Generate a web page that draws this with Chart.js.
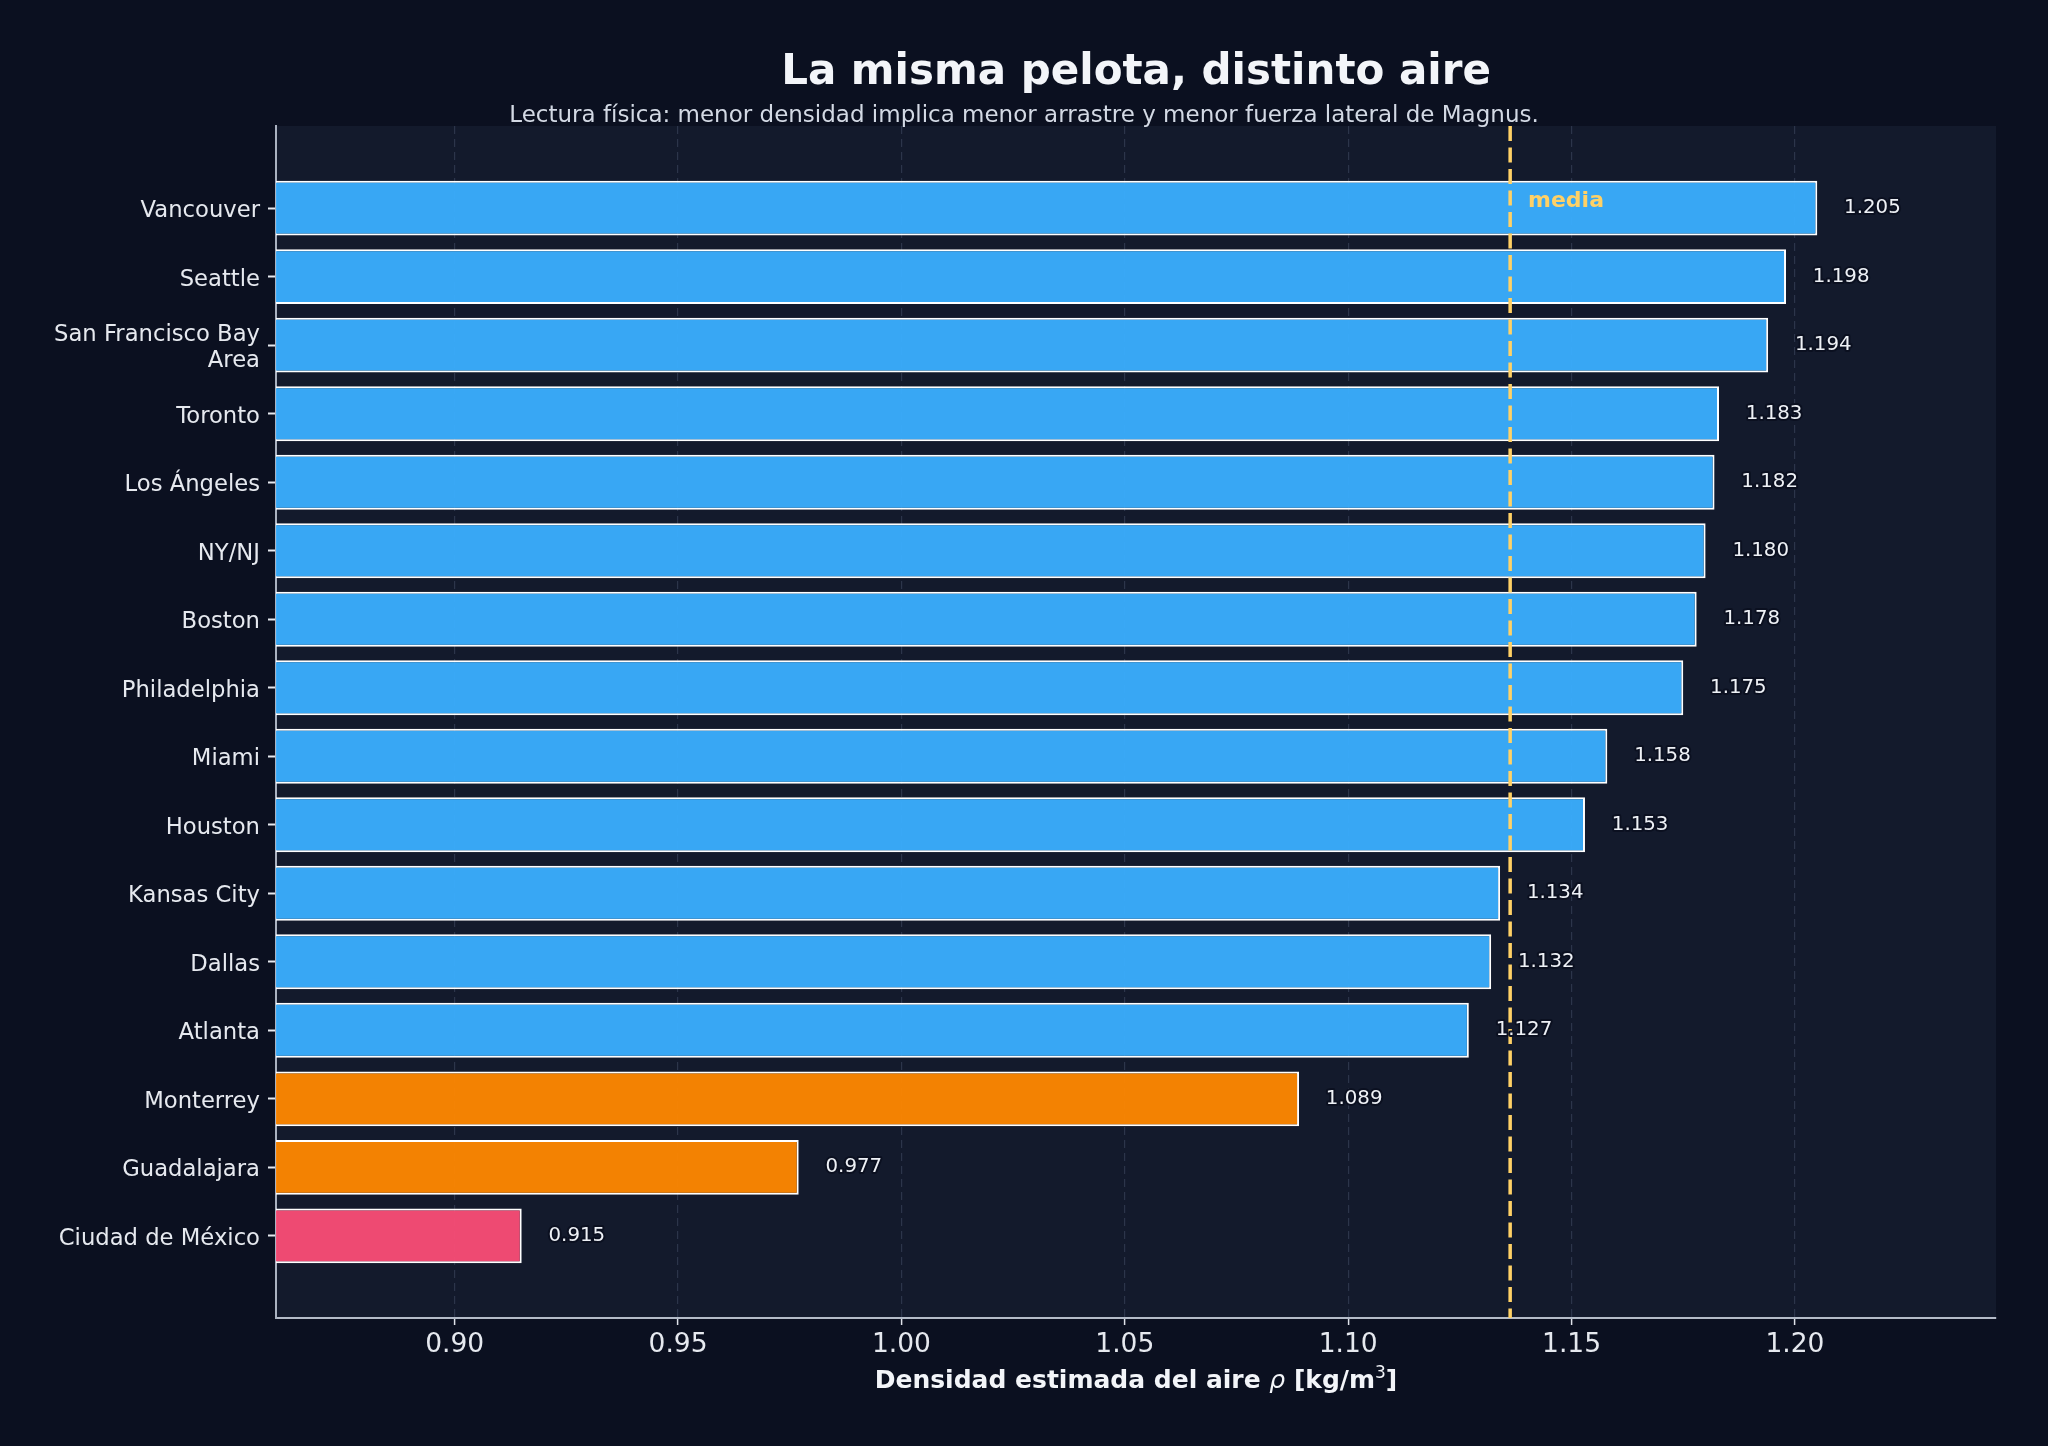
<!DOCTYPE html>
<html>
<head>
<meta charset="utf-8">
<script src="https://cdn.jsdelivr.net/npm/chart.js@4.4.1/dist/chart.umd.min.js"></script>
<style>
  html, body { margin: 0; padding: 0; background: #0b1020; }
  #wrap { width: 2048px; height: 1446px; }
</style>
</head>
<body>
<div id="wrap"><canvas id="chart" width="2048" height="1446"></canvas></div>
<script>
// Estimated air density per host city, sorted top to bottom
const cities = [
    'Vancouver', 'Seattle', ['San Francisco Bay', 'Area'], 'Toronto', 'Los Ángeles',
    'NY/NJ', 'Boston', 'Philadelphia', 'Miami', 'Houston', 'Kansas City',
    'Dallas', 'Atlanta', 'Monterrey', 'Guadalajara', 'Ciudad de México'
];
const densities = [
    1.205, 1.198, 1.194, 1.183, 1.182, 1.180, 1.178, 1.175,
    1.158, 1.153, 1.134, 1.132, 1.127, 1.089, 0.977, 0.915
];
const tiers = [
    'low', 'low', 'low', 'low', 'low', 'low', 'low', 'low',
    'low', 'low', 'low', 'low', 'low', 'mid', 'mid', 'high'
];
const xTicks = [0.90, 0.95, 1.00, 1.05, 1.10, 1.15, 1.20];

const titleText = 'La misma pelota, distinto aire';
const subtitleText = 'Lectura física: menor densidad implica menor arrastre y menor fuerza lateral de Magnus.';

const tierColors = {
    low: 'rgba(58, 175, 255, 0.95)',
    mid: 'rgba(255, 136, 0, 0.95)',
    high: 'rgba(250, 77, 118, 0.95)'
};

const meanDensity = densities.reduce((a, b) => a + b, 0) / densities.length;
const FONT = "'DejaVu Sans', 'Noto Sans', sans-serif";

const decorations = {
    id: 'decorations',
    beforeDraw(chart) {
        const { ctx, chartArea: a } = chart;
        ctx.save();
        ctx.fillStyle = '#0b1020';
        ctx.fillRect(0, 0, chart.width, chart.height);
        ctx.fillStyle = '#131a2c';
        ctx.fillRect(a.left, a.top, a.right - a.left, a.bottom - a.top);
        ctx.restore();
    },
    afterDatasetsDraw(chart) {
        const { ctx, chartArea: a, scales } = chart;
        const x = scales.x, y = scales.y;

        // mean line
        const mx = x.getPixelForValue(meanDensity);
        ctx.save();
        ctx.strokeStyle = '#ffd166';
        ctx.lineWidth = 3.5;
        ctx.setLineDash([15, 6.5]);
        ctx.beginPath();
        ctx.moveTo(mx, a.top);
        ctx.lineTo(mx, a.bottom);
        ctx.stroke();
        ctx.setLineDash([]);

        ctx.font = `bold 22px ${FONT}`;
        ctx.fillStyle = '#ffd166';
        ctx.textAlign = 'left';
        ctx.textBaseline = 'middle';
        ctx.fillText('media', x.getPixelForValue(meanDensity + 0.004), y.getPixelForValue(-0.1));

        // value labels
        ctx.font = `19.8px ${FONT}`;
        ctx.lineJoin = 'round';
        densities.forEach((v, i) => {
            const px = x.getPixelForValue(v + 0.006);
            const py = y.getPixelForValue(i);
            ctx.strokeStyle = '#0b1020';
            ctx.lineWidth = 4;
            ctx.strokeText(v.toFixed(3), px, py);
            ctx.fillStyle = '#eef1f6';
            ctx.fillText(v.toFixed(3), px, py);
        });
        ctx.restore();
    },
    afterDraw(chart) {
        const { ctx, chartArea: a } = chart;
        const cx = (a.left + a.right) / 2;
        ctx.save();
        ctx.textBaseline = 'alphabetic';
        ctx.textAlign = 'center';
        ctx.fillStyle = '#f3f5f9';
        ctx.font = `bold 42px ${FONT}`;
        ctx.fillText(titleText, cx, 84);
        ctx.fillStyle = '#d3d9e4';
        ctx.font = `23px ${FONT}`;
        ctx.fillText(subtitleText, chart.width / 2, 122);

        // x axis title with italic rho and superscript
        const parts = [
            { t: 'Densidad estimada del aire ', f: `bold 25px ${FONT}`, dy: 0 },
            { t: 'ρ', f: `italic 25px ${FONT}`, dy: 0 },
            { t: ' [kg/m', f: `bold 25px ${FONT}`, dy: 0 },
            { t: '3', f: `17px ${FONT}`, dy: -10 },
            { t: ']', f: `bold 25px ${FONT}`, dy: 0 }
        ];
        let total = 0;
        parts.forEach(p => { ctx.font = p.f; p.w = ctx.measureText(p.t).width; total += p.w; });
        let px = cx - total / 2;
        ctx.textAlign = 'left';
        ctx.fillStyle = '#f3f5f9';
        parts.forEach(p => {
            ctx.font = p.f;
            ctx.fillText(p.t, px, 1388 + p.dy);
            px += p.w;
        });
        ctx.restore();
    }
};

new Chart(document.getElementById('chart'), {
    type: 'bar',
    data: {
        datasets: [{
            data: densities.map((v, i) => ({ x: v, y: i })),
            backgroundColor: tiers.map(t => tierColors[t]),
            borderColor: '#ffffff',
            borderWidth: 2,
            borderSkipped: false,
            categoryPercentage: 1,
            barPercentage: 0.8
        }]
    },
    options: {
        indexAxis: 'y',
        responsive: false,
        devicePixelRatio: 1,
        animation: false,
        layout: { padding: { left: 0, right: 52, top: 126, bottom: 0 } },
        plugins: {
            legend: { display: false },
            tooltip: { enabled: false }
        },
        scales: {
            x: {
                type: 'linear',
                position: 'bottom',
                min: 0.86,
                max: 1.245,
                afterBuildTicks: (scale) => { scale.ticks = xTicks.map(v => ({ value: v })); },
                afterFit: (scale) => { scale.height = 128; },
                ticks: {
                    color: '#e6e9ef',
                    font: { family: FONT, size: 26.5 },
                    padding: 4,
                    callback: (v) => Number(v).toFixed(2)
                },
                grid: {
                    color: '#2c354a',
                    lineWidth: 1.2,
                    tickColor: '#dfe3ea',
                    tickLength: 7,
                    tickWidth: 1.5
                },
                border: { color: '#b4bbc8', width: 2, dash: [8, 5] }
            },
            y: {
                type: 'linear',
                reverse: true,
                offset: false,
                min: -1.2,
                max: 16.2,
                afterBuildTicks: (scale) => { scale.ticks = cities.map((_, i) => ({ value: i })); },
                afterFit: (scale) => { scale.width = 276; },
                ticks: {
                    autoSkip: false,
                    color: '#e6e9ef',
                    font: { family: FONT, size: 22.7, lineHeight: 1.15 },
                    padding: 8,
                    labelOffset: 3,
                    callback: (v) => cities[v]
                },
                grid: {
                    offset: false,
                    drawOnChartArea: false,
                    tickColor: '#e6e9ef',
                    tickLength: 8,
                    tickWidth: 2
                },
                border: { color: '#aab2c0', width: 2 }
            }
        }
    },
    plugins: [decorations]
});
</script>
</body>
</html>
